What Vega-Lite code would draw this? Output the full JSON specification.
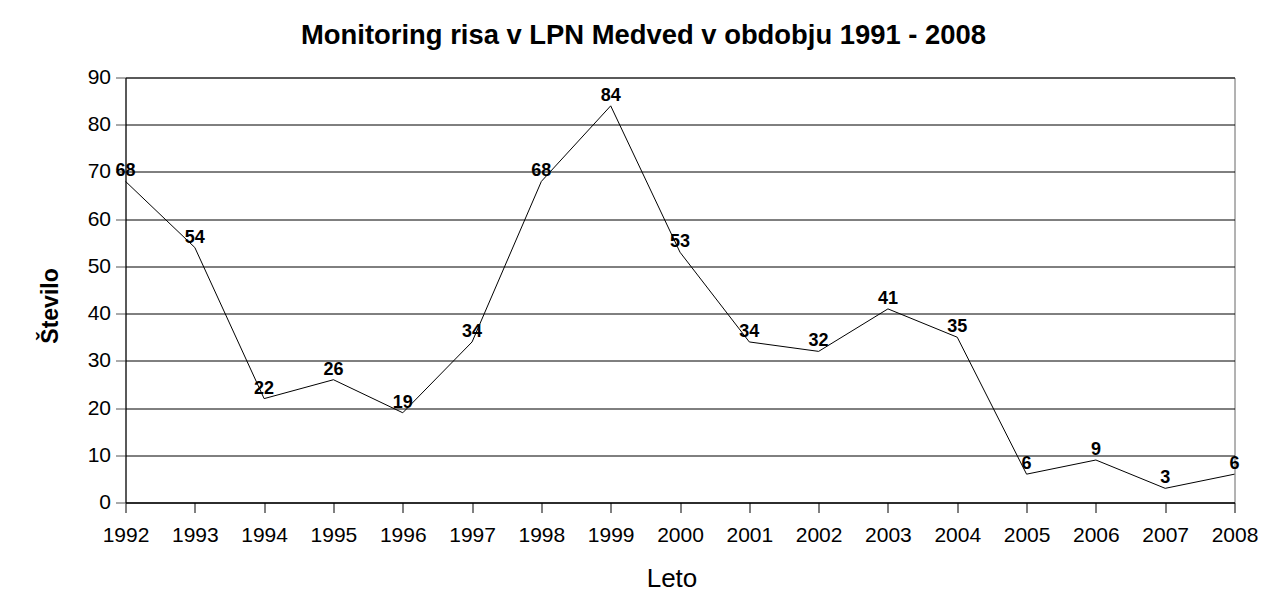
{
  "$schema": "https://vega.github.io/schema/vega-lite/v6.json",
  "width": 1109,
  "height": 425,
  "autosize": {"type": "none"},
  "padding": {"left": 125.5, "top": 77.5, "right": 46.5, "bottom": 93.5},
  "background": "white",
  "title": {
    "text": "Monitoring risa v LPN Medved v obdobju 1991 - 2008",
    "font": "Liberation Sans",
    "fontSize": 27.4,
    "fontWeight": "bold",
    "color": "#000",
    "anchor": "middle",
    "frame": "group",
    "baseline": "alphabetic",
    "dx": -36.5,
    "offset": -5
  },
  "config": {
    "view": {"stroke": "#666", "strokeWidth": 1},
    "axis": {"labelFont": "Liberation Sans", "titleFont": "Liberation Sans", "labelColor": "#000", "titleColor": "#000"}
  },
  "data": {
    "values": [
      {"Leto": 1992, "Stevilo": 68},
      {"Leto": 1993, "Stevilo": 54},
      {"Leto": 1994, "Stevilo": 22},
      {"Leto": 1995, "Stevilo": 26},
      {"Leto": 1996, "Stevilo": 19},
      {"Leto": 1997, "Stevilo": 34},
      {"Leto": 1998, "Stevilo": 68},
      {"Leto": 1999, "Stevilo": 84},
      {"Leto": 2000, "Stevilo": 53},
      {"Leto": 2001, "Stevilo": 34},
      {"Leto": 2002, "Stevilo": 32},
      {"Leto": 2003, "Stevilo": 41},
      {"Leto": 2004, "Stevilo": 35},
      {"Leto": 2005, "Stevilo": 6},
      {"Leto": 2006, "Stevilo": 9},
      {"Leto": 2007, "Stevilo": 3},
      {"Leto": 2008, "Stevilo": 6}
    ]
  },
  "encoding": {
    "x": {
      "field": "Leto",
      "type": "quantitative",
      "scale": {"domain": [1992, 2008], "nice": false, "zero": false},
      "axis": {
        "title": "Leto",
        "values": [1992,1993,1994,1995,1996,1997,1998,1999,2000,2001,2002,2003,2004,2005,2006,2007,2008],
        "format": "d",
        "grid": false,
        "domainColor": "#000",
        "tickColor": "#000",
        "tickSize": 10,
        "labelFontSize": 21,
        "labelPadding": 12,
        "labelFlush": false,
        "labelOverlap": false,
        "titleFontSize": 26,
        "titleFontWeight": "normal",
        "titleX": 546,
        "titleY": 84,
        "titleBaseline": "alphabetic",
        "titleAlign": "center"
      }
    },
    "y": {
      "field": "Stevilo",
      "type": "quantitative",
      "scale": {"domain": [0, 90], "nice": false},
      "axis": {
        "title": "Število",
        "values": [0,10,20,30,40,50,60,70,80,90],
        "grid": true,
        "gridColor": "#000",
        "gridOpacity": 1,
        "gridWidth": 1,
        "domainColor": "#000",
        "tickColor": "#555",
        "tickSize": 10,
        "labelFontSize": 21,
        "labelPadding": 5,
        "labelFlush": false,
        "titleFontSize": 23,
        "titleFontWeight": "bold",
        "titleAngle": 270,
        "titleX": -68.5,
        "titleY": 228,
        "titleAlign": "center",
        "titleBaseline": "alphabetic"
      }
    }
  },
  "layer": [
    {"mark": {"type": "line", "color": "#000", "strokeWidth": 1}},
    {
      "mark": {"type": "text", "font": "Liberation Sans", "fontSize": 18, "fontWeight": "bold", "color": "#000", "align": "center", "baseline": "alphabetic", "dy": -5},
      "encoding": {"text": {"field": "Stevilo", "type": "quantitative"}}
    }
  ]
}
